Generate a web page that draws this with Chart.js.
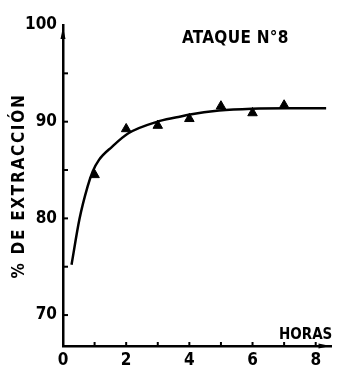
<!DOCTYPE html>
<html>
<head>
<meta charset="utf-8">
<script src="https://cdn.jsdelivr.net/npm/chart.js@4.4.1/dist/chart.umd.min.js"></script>
<style>
  html, body { margin: 0; padding: 0; background: #fff; }
  #wrap { width: 338px; height: 365px; }
</style>
</head>
<body>
<div id="wrap"><canvas id="c" width="338" height="365"></canvas></div>
<script>
// ---- data ----
const chartTitle = 'ATAQUE N°8';
const xAxisLabel = 'HORAS';
const yAxisLabel = '% DE EXTRACCIÓN';

const hours = [1, 2, 3, 4, 5, 6, 7];
const extraction = [84.5, 89.25, 89.6, 90.3, 91.6, 90.9, 91.7];

const curveHours  = [0.27, 0.52, 0.78, 0.94, 1.14, 1.55, 2.07, 2.99, 3.6, 4.02, 4.94, 5.98, 7.1, 8.33];
const curveValues = [75.2, 79.9, 83.3, 84.85, 86.05, 87.4, 88.8, 90.0, 90.45, 90.75, 91.15, 91.35, 91.4, 91.4];

const xTickValues = [0, 1, 2, 3, 4, 5, 6, 7, 8];
const xTickLabels = ['0', '', '2', '', '4', '', '6', '', '8'];
const yTickValues = [70, 75, 80, 85, 90, 95, 100];
const yTickLabels = ['70', '', '80', '', '90', '', '100'];

const FONT = "'DejaVu Sans Condensed', 'Liberation Sans Narrow', 'DejaVu Sans', sans-serif";

const pointsData = hours.map((h, i) => ({ x: h, y: extraction[i] }));
const curveData = curveHours.map((h, i) => ({ x: h, y: curveValues[i] }));

const decor = {
  id: 'decor',
  afterDraw(chart) {
    const ctx = chart.ctx;
    const xs = chart.scales.x, ys = chart.scales.y;
    const a = chart.chartArea;
    ctx.save();
    ctx.strokeStyle = '#000';
    ctx.fillStyle = '#000';
    ctx.lineWidth = 2;
    // inward tick marks
    yTickValues.forEach(v => {
      if (v >= 100) return;
      const py = ys.getPixelForValue(v);
      ctx.beginPath(); ctx.moveTo(a.left, py); ctx.lineTo(a.left + 5, py); ctx.stroke();
    });
    xTickValues.forEach(v => {
      if (v === 0) return;
      const px = xs.getPixelForValue(v);
      ctx.beginPath(); ctx.moveTo(px, a.bottom); ctx.lineTo(px, a.bottom - 4); ctx.stroke();
    });
    // arrow heads
    const ax = a.left, ay = a.top;
    ctx.beginPath();
    ctx.moveTo(ax, ay + 2); ctx.lineTo(ax - 2.5, ay + 14); ctx.lineTo(ax + 2.5, ay + 14); ctx.closePath(); ctx.fill();
    const bx = a.right, by = a.bottom;
    ctx.beginPath();
    ctx.moveTo(bx - 1, by); ctx.lineTo(bx - 13, by - 2.5); ctx.lineTo(bx - 13, by + 2.5); ctx.closePath(); ctx.fill();
    // texts
    ctx.textBaseline = 'middle';
    ctx.textAlign = 'left';
    ctx.font = 'bold 17px ' + FONT;
    try { ctx.letterSpacing = '0.3px'; } catch (e) {}
    ctx.fillText(chartTitle, 182, 39);
    ctx.font = 'bold 15px ' + FONT;
    try { ctx.letterSpacing = '0px'; } catch (e) {}
    ctx.fillText(xAxisLabel, 279, 335);
    // y axis title
    ctx.save();
    ctx.translate(20, 186);
    ctx.rotate(-Math.PI / 2);
    ctx.textAlign = 'center';
    ctx.font = 'bold 17px ' + FONT;
    try { ctx.letterSpacing = '1.7px'; } catch (e) {}
    ctx.fillText(yAxisLabel, 0, 0);
    ctx.restore();
    ctx.restore();
  }
};

new Chart(document.getElementById('c'), {
  type: 'scatter',
  data: {
    datasets: [
      {
        label: 'curva',
        data: curveData,
        showLine: true,
        borderColor: '#000',
        borderWidth: 2.5,
        pointRadius: 0,
        cubicInterpolationMode: 'monotone',
        fill: false
      },
      {
        label: 'ataque',
        data: pointsData,
        showLine: false,
        pointStyle: 'triangle',
        pointRadius: 5.5,
        backgroundColor: '#000',
        borderColor: '#000',
        borderWidth: 1
      }
    ]
  },
  options: {
    responsive: false,
    animation: false,
    events: [],
    layout: { padding: { top: 25, right: 0, left: 0, bottom: 0 } },
    plugins: { legend: { display: false }, tooltip: { enabled: false }, title: { display: false } },
    scales: {
      x: {
        type: 'linear',
        min: 0,
        max: 8.5,
        afterBuildTicks: s => { s.ticks = xTickValues.map(v => ({ value: v })); },
        afterFit: s => { s.height = 19; },
        grid: { display: false, drawTicks: false },
        border: { display: true, color: '#000', width: 2.5 },
        ticks: {
          padding: 4,
          color: '#000',
          font: { family: FONT, size: 17, weight: 'bold' },
          maxRotation: 0,
          autoSkip: false,
          callback: (v, i) => xTickLabels[i]
        }
      },
      y: {
        type: 'linear',
        min: 66.8,
        max: 100,
        afterBuildTicks: s => { s.ticks = yTickValues.map(v => ({ value: v })); },
        afterFit: s => { s.width = 63; },
        grid: { display: false, drawTicks: false },
        border: { display: true, color: '#000', width: 2.5 },
        ticks: {
          padding: 6,
          color: '#000',
          font: { family: FONT, size: 17, weight: 'bold' },
          autoSkip: false,
          callback: (v, i) => yTickLabels[i]
        }
      }
    }
  },
  plugins: [decor]
});
</script>
</body>
</html>
